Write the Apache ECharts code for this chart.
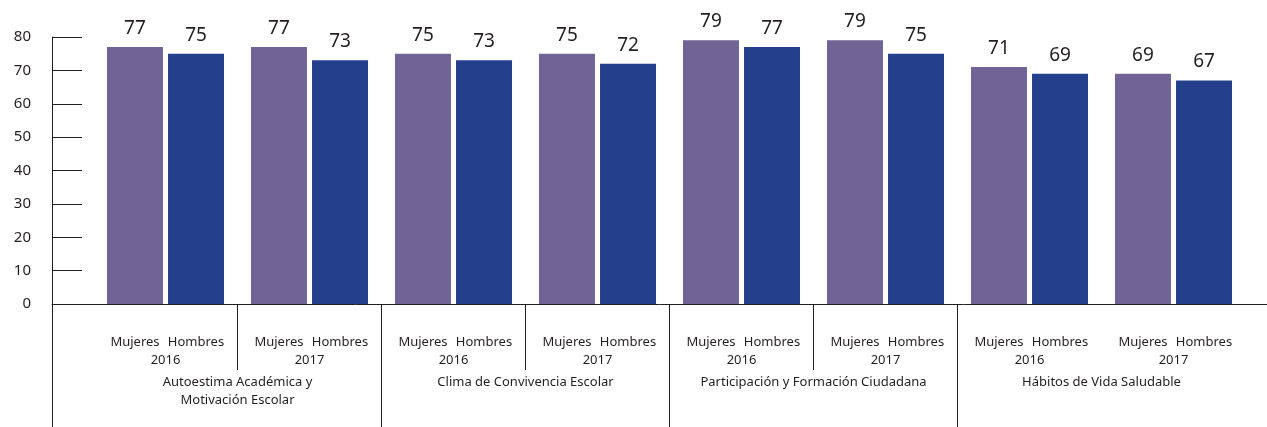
<!DOCTYPE html>
<html>
<head>
<meta charset="utf-8">
<title>Resultados por dimensión</title>
<script src="https://cdn.jsdelivr.net/npm/echarts@6/dist/echarts.min.js"></script>
<style>
    html, body { margin: 0; padding: 0; background: #fff; }
    #chart { width: 1267px; height: 427px; }
</style>
</head>
<body>
<div id="chart"></div>
<script type="text/javascript">
    // datos
    var groups = ['Autoestima Académica y\nMotivación Escolar', 'Clima de Convivencia Escolar', 'Participación y Formación Ciudadana', 'Hábitos de Vida Saludable'];
    var years = ['2016', '2017'];
    var mujeres = [77, 77, 75, 75, 79, 79, 71, 69];
    var hombres = [75, 73, 73, 72, 77, 75, 69, 67];
    var yMin = 0, yMax = 80, yStep = 10;

    var subCats = [];
    groups.forEach(function (g) {
        years.forEach(function (y) { subCats.push(g + '|' + y); });
    });

    var font = 'Noto Sans';
    var ink = '#231f20';
    var purple = '#716394';
    var blue = '#243f8c';

    // grid 0: barras, grid 1: ejes, grid 2: separadores de año, grid 3: separadores de dimensión
    var plot = { left: 93.5, right: 21.5, top: 37, bottom: 123 };

    var myChart = echarts.init(document.getElementById('chart'), null, { renderer: 'canvas' });
    var option = {
        animation: false,
        backgroundColor: '#fff',
        textStyle: { fontFamily: font },
        grid: [
            { left: plot.left, right: plot.right, top: plot.top, bottom: plot.bottom },
            { left: 52, right: 0, top: plot.top, bottom: plot.bottom },
            { left: plot.left, right: plot.right, top: 304, height: 66 },
            { left: plot.left, right: plot.right, top: 304, bottom: 0 }
        ],
        xAxis: [
            {
                gridIndex: 0, type: 'category', data: subCats,
                axisLine: { show: false }, axisTick: { show: false },
                axisLabel: {
                    margin: 29, interval: 0, lineHeight: 18, color: ink, fontSize: 13, fontFamily: font,
                    formatter: function (v) {
                        return '{m|Mujeres}{h|Hombres}\n{y|' + v.split('|')[1] + '}';
                    },
                    rich: {
                        m: { width: 61, align: 'center', fontSize: 13, color: ink, fontFamily: font, lineHeight: 18 },
                        h: { width: 61, align: 'center', fontSize: 13, color: ink, fontFamily: font, lineHeight: 18 },
                        y: { fontSize: 13, color: ink, fontFamily: font, lineHeight: 18 }
                    }
                }
            },
            {
                gridIndex: 0, type: 'category', data: groups, position: 'bottom',
                axisLine: { show: false }, axisTick: { show: false },
                axisLabel: { margin: 69, interval: 0, lineHeight: 18, color: ink, fontSize: 13, fontFamily: font }
            },
            {
                gridIndex: 1, type: 'value', min: 0, max: 1,
                axisLine: { show: true, onZero: false, lineStyle: { color: ink, width: 1 } },
                axisTick: { show: false }, axisLabel: { show: false }, splitLine: { show: false }
            },
            {
                gridIndex: 2, type: 'value', min: 0, max: subCats.length, interval: 1,
                axisLine: { show: false }, axisTick: { show: false }, axisLabel: { show: false },
                splitLine: {
                    show: true, showMinLine: false, showMaxLine: false,
                    lineStyle: { color: [ink, 'rgba(0,0,0,0)', ink, 'rgba(0,0,0,0)', ink, 'rgba(0,0,0,0)', 'rgba(0,0,0,0)'], width: 1 }
                }
            },
            {
                gridIndex: 3, type: 'value', min: 0, max: groups.length, interval: 1,
                axisLine: { show: false }, axisTick: { show: false }, axisLabel: { show: false },
                splitLine: { show: true, showMinLine: false, showMaxLine: false, lineStyle: { color: ink, width: 1 } }
            }
        ],
        yAxis: [
            { gridIndex: 0, type: 'value', min: yMin, max: yMax, interval: yStep, show: false },
            {
                gridIndex: 1, type: 'value', min: yMin, max: yMax, interval: yStep,
                axisLine: { show: true, onZero: false, lineStyle: { color: ink, width: 1 } },
                axisTick: { show: true, inside: true, length: 30, lineStyle: { color: ink, width: 1 } },
                axisLabel: { margin: 21, color: ink, fontSize: 15, fontFamily: font },
                splitLine: { show: false }
            },
            { gridIndex: 2, type: 'value', show: false },
            {
                gridIndex: 3, type: 'value', min: 0, max: 1, offset: 41.5,
                axisLine: { show: true, onZero: false, lineStyle: { color: ink, width: 1 } },
                axisTick: { show: false }, axisLabel: { show: false }, splitLine: { show: false }
            }
        ],
        series: [
            {
                name: 'Mujeres', type: 'bar', xAxisIndex: 0, yAxisIndex: 0,
                data: mujeres, barWidth: 56, barGap: '9%',
                itemStyle: { color: purple },
                label: { show: true, position: 'top', distance: 9, color: ink, fontSize: 19, fontFamily: font }
            },
            {
                name: 'Hombres', type: 'bar', xAxisIndex: 0, yAxisIndex: 0,
                data: hombres, barWidth: 56,
                itemStyle: { color: blue },
                label: { show: true, position: 'top', distance: 9, color: ink, fontSize: 19, fontFamily: font }
            }
        ]
    };
    myChart.setOption(option);
</script>
</body>
</html>
